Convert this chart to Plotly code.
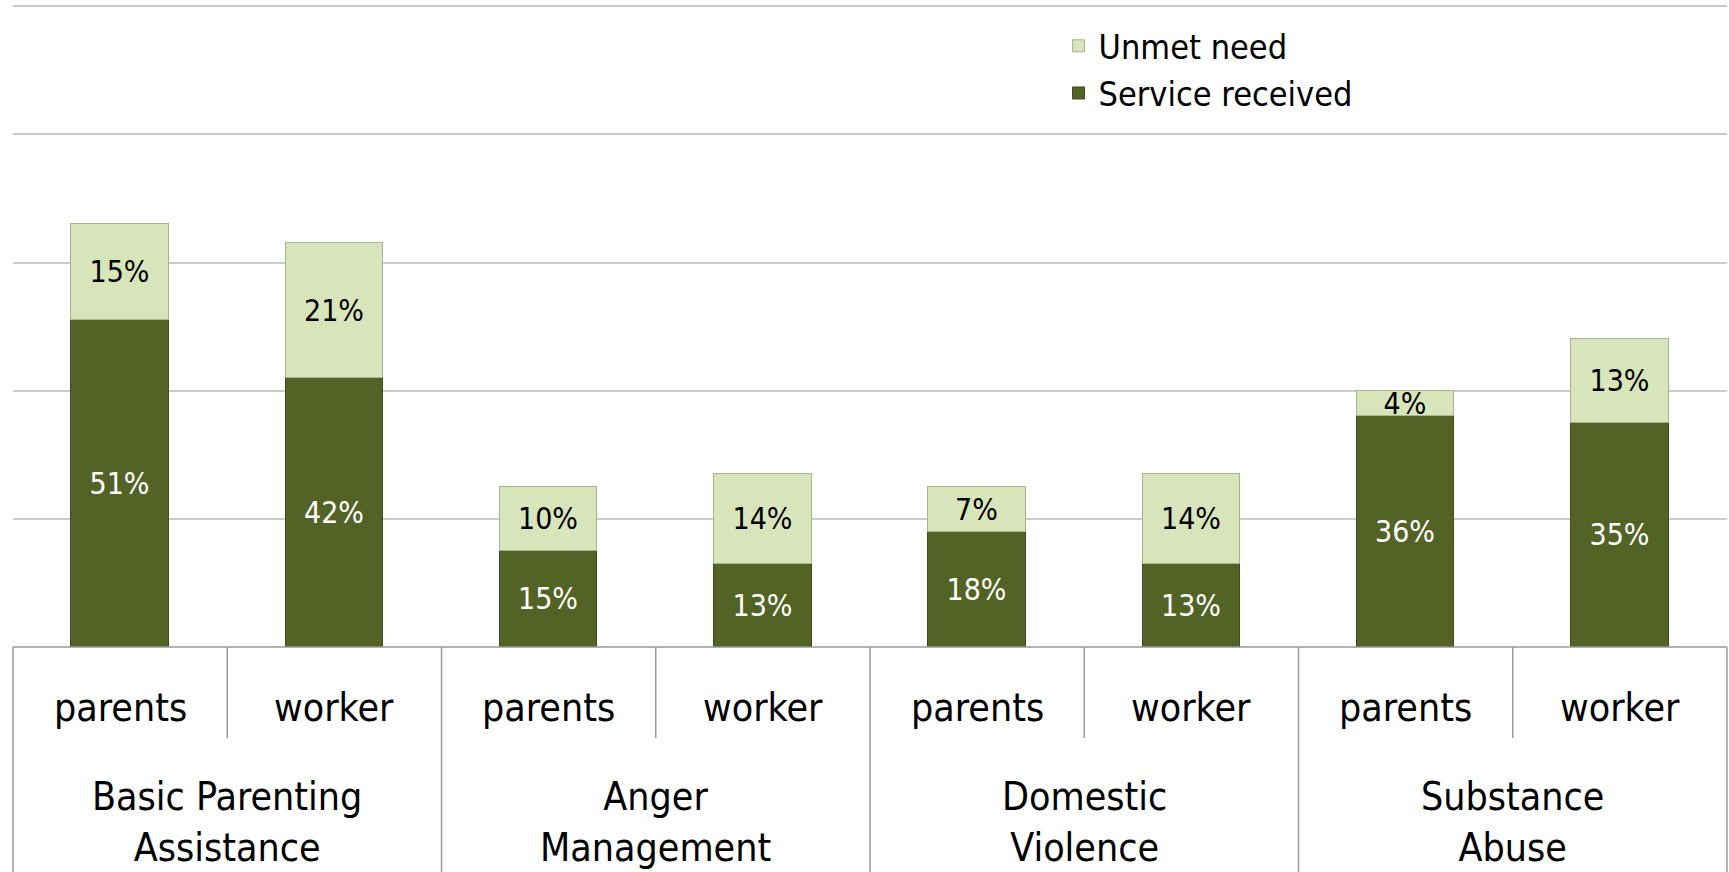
import plotly.graph_objects as go

# Service categories, respondents and percentages
groups = ["Basic Parenting<br>Assistance", "Anger<br>Management", "Domestic<br>Violence", "Substance<br>Abuse"]
respondents = ["parents", "worker"]
service_received = [51, 42, 15, 13, 18, 13, 36, 35]
unmet_need = [15, 21, 10, 14, 7, 14, 4, 13]

FONT = "DejaVu Sans Condensed, Open Sans, DejaVu Sans, sans-serif"
DARK = "#536326"
LIGHT = "#d8e5bb"
LINE = "#9a9a9a"

n_slots = len(groups) * len(respondents)
x_pos = list(range(n_slots))

fig = go.Figure()
fig.add_trace(go.Bar(
    x=x_pos, y=service_received, name="Service received",
    marker=dict(color=DARK, line=dict(color="#3f4b1d", width=1)),
    width=0.455,
    text=[f"{v}%" for v in service_received], textposition="inside",
    insidetextanchor="middle",
    textfont=dict(family=FONT, size=30, color="white"),
))
fig.add_trace(go.Bar(
    x=x_pos, y=unmet_need, name="Unmet need",
    marker=dict(color=LIGHT, line=dict(color="#a9b58e", width=1)),
    width=0.455,
    text=[f"{v}%" for v in unmet_need], textposition="inside",
    insidetextanchor="middle",
    textfont=dict(family=FONT, size=30, color="black"),
))

# category axis drawn as a table of boxed labels below the baseline
W, H = 1729, 872
L, R, T, B = 13, 2, 5, 225
plot_h = H - T - B

def py(px_y):
    return -(px_y - (H - B)) / plot_h

shapes = []
annotations = []
slot = 1.0 / n_slots
# baseline
shapes.append(dict(type="line", xref="paper", yref="paper", x0=0, x1=1, y0=0, y1=0,
                   line=dict(color=LINE, width=1.5)))
for i in range(n_slots + 1):
    full = (i % len(respondents) == 0)
    shapes.append(dict(type="line", xref="paper", yref="paper",
                       x0=i * slot, x1=i * slot, y0=0,
                       y1=py(H) if full else py(738),
                       line=dict(color=LINE, width=1.5)))

for i in range(n_slots):
    annotations.append(dict(xref="paper", yref="paper", x=(i + 0.5) * slot, y=py(707),
                            text=respondents[i % len(respondents)], showarrow=False,
                            xanchor="center", yanchor="middle",
                            font=dict(family=FONT, size=39, color="black")))
for g, name in enumerate(groups):
    annotations.append(dict(xref="paper", yref="paper",
                            x=(g + 0.5) * slot * len(respondents), y=py(822),
                            text=name, showarrow=False,
                            xanchor="center", yanchor="middle",
                            font=dict(family=FONT, size=39, color="black")))

fig.update_layout(
    width=W, height=H,
    margin=dict(l=L, r=R, t=T, b=B),
    barmode="stack",
    plot_bgcolor="white", paper_bgcolor="white",
    showlegend=True,
    legend=dict(x=0.61, y=0.981, xanchor="left", yanchor="top",
                traceorder="reversed",
                font=dict(family=FONT, size=34, color="black"),
                bgcolor="rgba(0,0,0,0)", itemwidth=30),
    uniformtext=dict(minsize=30, mode="show"),
    shapes=shapes,
    annotations=annotations,
    xaxis=dict(range=[-0.5, n_slots - 0.5], showticklabels=False, showgrid=False,
               zeroline=False, showline=False, ticks=""),
    yaxis=dict(range=[0, 100.2], tickvals=[20, 40, 60, 80, 100], showticklabels=False,
               showgrid=True, gridcolor="#cccccc", gridwidth=2, zeroline=False,
               showline=False, ticks=""),
    bargap=0,
)

fig.write_html("out.html")
